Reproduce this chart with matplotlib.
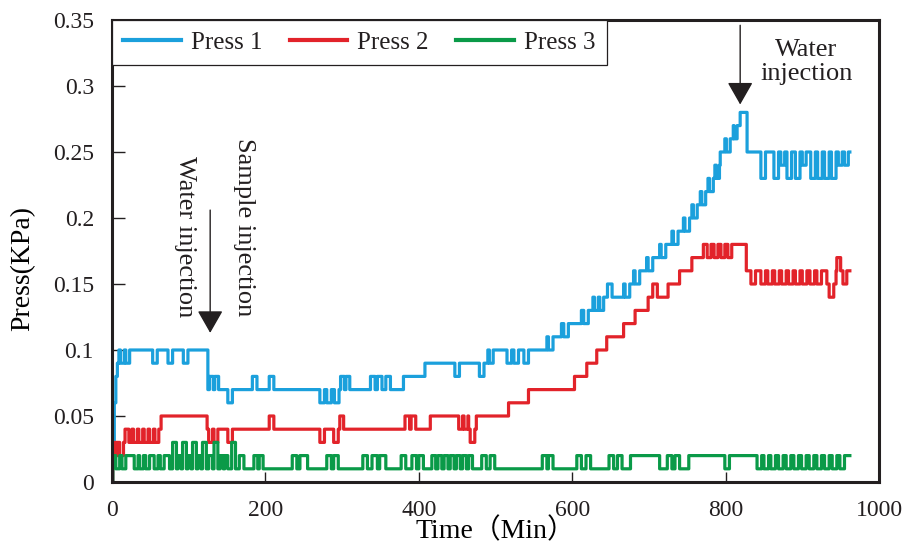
import matplotlib.pyplot as plt
import numpy as np

# step levels: (start minute, pressure)
p1_levels = [(0, 0.0), (1, 0.03), (3, 0.06), (5, 0.08), (7, 0.09), (9, 0.10),
             (125, 0.07), (380, 0.08), (408, 0.09), (490, 0.10),
             (567, 0.11), (586, 0.12), (612, 0.13), (627, 0.14), (667, 0.15),
             (680, 0.16), (697, 0.17), (714, 0.18), (730, 0.19), (745, 0.20),
             (756, 0.21), (767, 0.22), (777, 0.23), (786, 0.24), (793, 0.25),
             (799, 0.26), (810, 0.27), (819, 0.28), (828, 0.25)]
# short excursions: (start, end, pressure)
p1_blips = [(11, 16, 0.09), (18, 23, 0.09),
            (53, 59, 0.09), (73, 79, 0.09), (93, 99, 0.09),
            (127, 132, 0.08), (134, 139, 0.08), (151, 157, 0.06),
            (183, 189, 0.08), (205, 211, 0.08),
            (271, 277, 0.06), (280, 286, 0.06), (290, 296, 0.06),
            (298, 303, 0.08), (305, 310, 0.08),
            (337, 343, 0.08), (346, 352, 0.08), (357, 363, 0.08),
            (447, 453, 0.08), (479, 485, 0.08), (492, 497, 0.09),
            (515, 521, 0.09), (524, 530, 0.09), (537, 543, 0.09),
            (569, 575, 0.10), (589, 595, 0.11), (615, 621, 0.12),
            (629, 634, 0.13), (636, 641, 0.13), (646, 652, 0.15),
            (669, 675, 0.14), (682, 688, 0.15), (699, 705, 0.16),
            (716, 722, 0.17), (732, 738, 0.18), (747, 753, 0.19),
            (758, 763, 0.20), (769, 774, 0.21), (779, 784, 0.22),
            (788, 792, 0.23), (801, 806, 0.25), (811, 815, 0.26),
            (846, 852, 0.23), (863, 869, 0.23), (872, 877, 0.24),
            (880, 886, 0.23), (891, 897, 0.23), (900, 905, 0.24),
            (911, 917, 0.23), (920, 926, 0.23), (929, 935, 0.23),
            (938, 944, 0.23), (947, 952, 0.24), (955, 960, 0.24)]

p2_levels = [(0, 0.0), (1, 0.02), (8, 0.03), (26, 0.04), (64, 0.05),
             (124, 0.04), (415, 0.05), (517, 0.06), (543, 0.07), (603, 0.08),
             (619, 0.09), (632, 0.10), (645, 0.11), (667, 0.12), (682, 0.13),
             (699, 0.14), (725, 0.15), (740, 0.16), (756, 0.17), (771, 0.18),
             (827, 0.16)]
p2_blips = [(3, 7, 0.03), (10, 15, 0.02), (17, 22, 0.04),
            (28, 33, 0.03), (35, 40, 0.03), (42, 47, 0.03), (49, 54, 0.03),
            (56, 61, 0.03),
            (126, 131, 0.03), (133, 138, 0.03), (151, 157, 0.03),
            (205, 211, 0.05),
            (271, 277, 0.03), (289, 295, 0.03), (297, 302, 0.05),
            (382, 388, 0.05), (390, 396, 0.05),
            (452, 457, 0.04), (459, 464, 0.04), (465, 475, 0.04), (467, 473, 0.03),
            (705, 711, 0.15),
            (776, 781, 0.17), (785, 790, 0.17), (794, 799, 0.17), (803, 808, 0.17),
            (833, 839, 0.15), (846, 852, 0.15), (855, 861, 0.15), (864, 870, 0.15),
            (873, 879, 0.15), (882, 888, 0.15), (891, 897, 0.15), (900, 906, 0.15),
            (910, 916, 0.15), (919, 925, 0.15),
            (932, 944, 0.15), (935, 941, 0.14), (945, 950, 0.17), (953, 958, 0.15)]

p3_levels = [(0, 0.0), (1, 0.02), (75, 0.01), (676, 0.02), (714, 0.01), (752, 0.02)]
p3_blips = [(5, 10, 0.01), (13, 18, 0.01), (29, 34, 0.01), (36, 41, 0.01),
            (44, 49, 0.01), (55, 60, 0.01), (63, 68, 0.01),
            (79, 84, 0.03), (86, 90, 0.02), (92, 97, 0.03), (99, 103, 0.02),
            (105, 110, 0.03), (112, 116, 0.02), (118, 123, 0.03),
            (126, 131, 0.02), (133, 138, 0.03), (141, 145, 0.02),
            (147, 151, 0.02), (156, 161, 0.03), (166, 172, 0.02),
            (185, 190, 0.02), (192, 197, 0.02),
            (235, 241, 0.02), (245, 255, 0.02), (280, 286, 0.02), (289, 295, 0.02),
            (327, 333, 0.02), (339, 346, 0.02), (349, 357, 0.02), (377, 383, 0.02),
            (391, 397, 0.02), (400, 406, 0.02), (417, 422, 0.02), (425, 430, 0.02),
            (433, 438, 0.02), (441, 446, 0.02), (449, 454, 0.02), (457, 462, 0.02),
            (465, 470, 0.02), (482, 488, 0.02), (493, 499, 0.02),
            (561, 567, 0.02), (569, 575, 0.02), (606, 612, 0.02), (618, 624, 0.02),
            (648, 654, 0.02), (659, 665, 0.02),
            (724, 730, 0.02), (734, 740, 0.02),
            (799, 805, 0.01), (841, 847, 0.01), (850, 856, 0.01), (859, 865, 0.01),
            (869, 875, 0.01), (879, 885, 0.01), (889, 895, 0.01), (899, 905, 0.01),
            (909, 915, 0.01), (919, 925, 0.01), (929, 935, 0.01), (939, 945, 0.01),
            (949, 955, 0.01)]

names = ['Press 1', 'Press 2', 'Press 3']
colors = ['#1ba0dc', '#e2232a', '#0a9a48']
xticks = [0, 200, 400, 600, 800, 1000]
yticks = [0, 0.05, 0.1, 0.15, 0.2, 0.25, 0.3, 0.35]
ylabels = ['0', '0.05', '0.1', '0.15', '0.2', '0.25', '0.3', '0.35']

t = np.arange(0, 963)


def build(levels, blips):
    starts, values = zip(*levels)
    idx = np.searchsorted(starts, t, side='right') - 1
    y = np.array(values)[idx]
    for a, b, v in blips:
        y[(t >= a) & (t < b)] = v
    return y


series = [build(p1_levels, p1_blips), build(p2_levels, p2_blips), build(p3_levels, p3_blips)]

ink = '#231f20'
serif = ['Liberation Serif', 'Noto Sans CJK SC']
plt.rcParams['font.family'] = serif
plt.rcParams['text.color'] = ink

fig = plt.figure(figsize=(9.11, 5.43), dpi=100)
ax = fig.add_axes([112 / 911, 1 - 482 / 543, 767 / 911, 462 / 543])

for y, name, c in zip(series, names, colors):
    ax.plot(t, y, drawstyle='steps-post', color=c, lw=2.3, label=name)

ax.set_xlim(0, 1000)
ax.set_ylim(0, 0.35)
ax.set_xticks(xticks)
ax.set_yticks(yticks)
ax.set_yticklabels(ylabels)
ax.tick_params(axis='x', direction='in', length=7, width=1, pad=13,
               labelsize=17, colors=ink)
ax.tick_params(axis='y', direction='in', length=9, width=1, pad=13,
               labelsize=17, colors=ink)
for sp in ax.spines.values():
    sp.set_linewidth(2.2)
    sp.set_color(ink)

ax.set_xlabel('Time（Min）', fontsize=20, va='center')
ax.xaxis.set_label_coords(0.5, -0.106)
ax.set_ylabel('Press(KPa)', fontsize=20)
ax.yaxis.set_label_coords(-0.10, 0.463)

leg = ax.legend(loc='upper left', bbox_to_anchor=(0, 1), borderaxespad=0,
                ncol=3, fontsize=18, frameon=True, fancybox=False,
                handlelength=2.3, handletextpad=0.4, columnspacing=1.1,
                borderpad=0.45)
leg.get_frame().set_edgecolor(ink)
leg.get_frame().set_linewidth(0.9)
leg.get_frame().set_alpha(1)
for line in leg.get_lines():
    line.set_linewidth(3)

arrow = dict(arrowstyle='-|>,head_length=1.4,head_width=0.8', mutation_scale=10,
             color=ink, lw=1, shrinkA=0, shrinkB=0)
ax.annotate('', xy=(128, 0.113), xytext=(128, 0.206), arrowprops=arrow)
ax.annotate('', xy=(819, 0.286), xytext=(819, 0.346), arrowprops=arrow)

ax.text(95, 0.186, 'Water injection', rotation=270, ha='center', va='center', fontsize=19)
ax.text(172, 0.193, 'Sample injection', rotation=270, ha='center', va='center', fontsize=19)
ax.text(905, 0.318, 'Water\ninjection', ha='center', va='center', fontsize=19,
        linespacing=1.1)

fig.savefig('out.png', dpi=100)
